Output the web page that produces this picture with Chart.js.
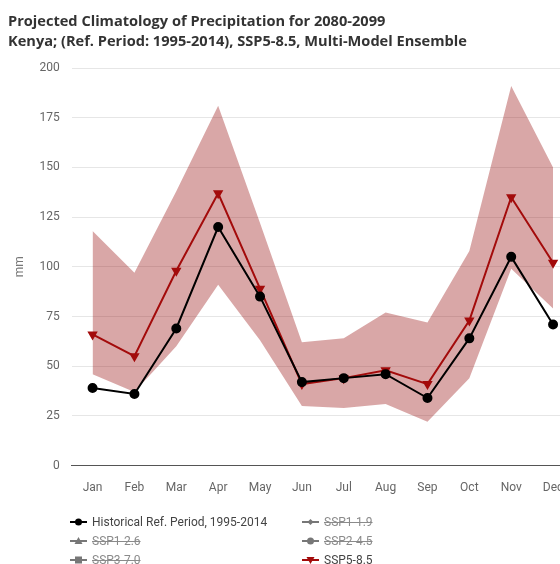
<!DOCTYPE html>
<html>
<head>
<meta charset="utf-8">
<script src="https://cdn.jsdelivr.net/npm/chart.js@4.4.1/dist/chart.umd.min.js"></script>
<style>
    html, body { margin: 0; padding: 0; background: #fff; overflow: hidden; }
    #wrap { position: relative; width: 560px; height: 564px; overflow: hidden; }
    #chart { position: absolute; left: 0; top: 0; }
    #legend {
        position: absolute; left: 70px; top: 512px;
        display: grid; grid-template-columns: 232px 120px;
        font: 12px Roboto, sans-serif;
    }
    .item { display: flex; align-items: center; height: 19px; color: #444; cursor: pointer; white-space: nowrap; }
    .item svg { margin-right: 5px; flex: none; }
    .item.off { color: #8a8a8a; text-decoration: line-through; }
</style>
</head>
<body>
<div id="wrap">
    <canvas id="chart" width="580" height="516"></canvas>
    <div id="legend"></div>
</div>
<script>
// ─── DONNÉES ──────────────────────────────────────────────────────────────
const months = ['Jan', 'Feb', 'Mar', 'Apr', 'May', 'Jun', 'Jul', 'Aug', 'Sep', 'Oct', 'Nov', 'Dec'];

// mm / month
const historical = [39, 36, 69, 120, 85, 42, 44, 46, 34, 64, 105, 71];
const ssp585     = [66, 55, 98, 137, 89, 41, 44, 48, 41, 73, 135, 102];
const ssp585High = [118, 97, 138, 181, 122, 62, 64, 77, 72, 108, 191, 150];
const ssp585Low  = [46, 37, 60, 91, 63, 30, 29, 31, 22, 44, 99, 79];

const yTicks = [0, 25, 50, 75, 100, 125, 150, 175, 200];

// scenarios switched off in the legend (no values shown)
const hiddenScenarios = [
    { label: 'SSP1-1.9', style: 'rectRot' },
    { label: 'SSP1-2.6', style: 'triangle' },
    { label: 'SSP2-4.5', style: 'circle' },
    { label: 'SSP3-7.0', style: 'rect' }
];

const RED = '#a30b0b';
const GREY = '#777';
const tickFont = { family: 'Roboto', size: 12 };

const datasets = [{
    label: 'Historical Ref. Period, 1995-2014',
    data: historical,
    borderColor: '#000',
    backgroundColor: '#000',
    borderWidth: 2,
    pointStyle: 'circle',
    pointRadius: 4,
    order: 0
}];

hiddenScenarios.forEach(s => {
    datasets.push({
        label: s.label,
        data: [],
        hidden: true,
        borderColor: GREY,
        backgroundColor: GREY,
        pointStyle: s.style,
        order: 1
    });
});

datasets.push({
    label: 'SSP5-8.5',
    data: ssp585,
    borderColor: RED,
    backgroundColor: RED,
    borderWidth: 2,
    pointStyle: 'triangle',
    rotation: 180,
    pointRadius: 4,
    order: 1
}, {
    label: 'band-high',
    data: ssp585High,
    borderWidth: 0,
    pointRadius: 0,
    backgroundColor: 'rgba(150, 10, 10, 0.36)',
    fill: '+1',
    order: 10
}, {
    label: 'band-low',
    data: ssp585Low,
    borderWidth: 0,
    pointRadius: 0,
    backgroundColor: 'rgba(150, 10, 10, 0.36)',
    fill: false,
    order: 10
});

// ─── LÉGENDE HTML (2 colonnes) ────────────────────────────────────────────
function markerSvg(style, color) {
    let shape = '';
    if (style === 'circle') shape = `<circle cx="8.5" cy="5" r="3.5" fill="${color}"/>`;
    else if (style === 'rect') shape = `<rect x="5" y="1.5" width="7" height="7" fill="${color}"/>`;
    else if (style === 'rectRot') shape = `<polygon points="8.5,2 11.5,5 8.5,8 5.5,5" fill="${color}"/>`;
    else if (style === 'triangle') shape = `<polygon points="8.5,1 12.5,8 4.5,8" fill="${color}"/>`;
    else if (style === 'triangleDown') shape = `<polygon points="4.5,2 12.5,2 8.5,9" fill="${color}"/>`;
    return `<svg width="17" height="10"><line x1="0" y1="5" x2="17" y2="5" stroke="${color}" stroke-width="2"/>${shape}</svg>`;
}

const htmlLegend = {
    id: 'htmlLegend',
    afterUpdate(chart) {
        const box = document.getElementById('legend');
        box.innerHTML = '';
        chart.data.datasets.forEach((ds, i) => {
            if (ds.label.startsWith('band')) return;
            const visible = chart.isDatasetVisible(i);
            const style = ds.rotation === 180 ? 'triangleDown' : ds.pointStyle;
            const div = document.createElement('div');
            div.className = 'item' + (visible ? '' : ' off');
            div.innerHTML = markerSvg(style, ds.borderColor) + `<span>${ds.label}</span>`;
            div.onclick = () => {
                chart.setDatasetVisibility(i, !visible);
                chart.update();
            };
            box.appendChild(div);
        });
    }
};

// ─── GRAPHIQUE ────────────────────────────────────────────────────────────
const ctx = document.getElementById('chart').getContext('2d');

new Chart(ctx, {
    type: 'line',
    data: { labels: months, datasets },
    options: {
        responsive: false,
        animation: false,
        layout: { padding: { left: 8, right: 3, top: 0, bottom: 6 } },
        plugins: {
            legend: { display: false },
            title: {
                display: true,
                text: [
                    'Projected Climatology of Precipitation for 2080-2099',
                    'Kenya; (Ref. Period: 1995-2014), SSP5-8.5, Multi-Model Ensemble'
                ],
                align: 'start',
                color: '#333',
                font: { family: "'Open Sans'", size: 14.6, weight: 'bold', lineHeight: 1.37 },
                padding: { top: 12, bottom: 16 }
            },
            tooltip: { filter: item => !item.dataset.label.startsWith('band') }
        },
        scales: {
            x: {
                offset: true,
                grid: { display: false, drawTicks: false },
                border: { display: true, color: '#555', width: 1 },
                ticks: { color: '#666', font: tickFont, padding: 15, maxRotation: 0, autoSkip: false }
            },
            y: {
                min: yTicks[0],
                max: yTicks[yTicks.length - 1],
                afterBuildTicks: axis => { axis.ticks = yTicks.map(v => ({ value: v })); },
                grid: { color: '#e6e6e6', drawTicks: false },
                border: { display: false },
                ticks: { color: '#666', font: tickFont, padding: 12 },
                title: {
                    display: true, text: 'mm', color: '#777', font: tickFont,
                    padding: { top: 5, bottom: 0 }
                }
            }
        }
    },
    plugins: [htmlLegend]
});
</script>
</body>
</html>
